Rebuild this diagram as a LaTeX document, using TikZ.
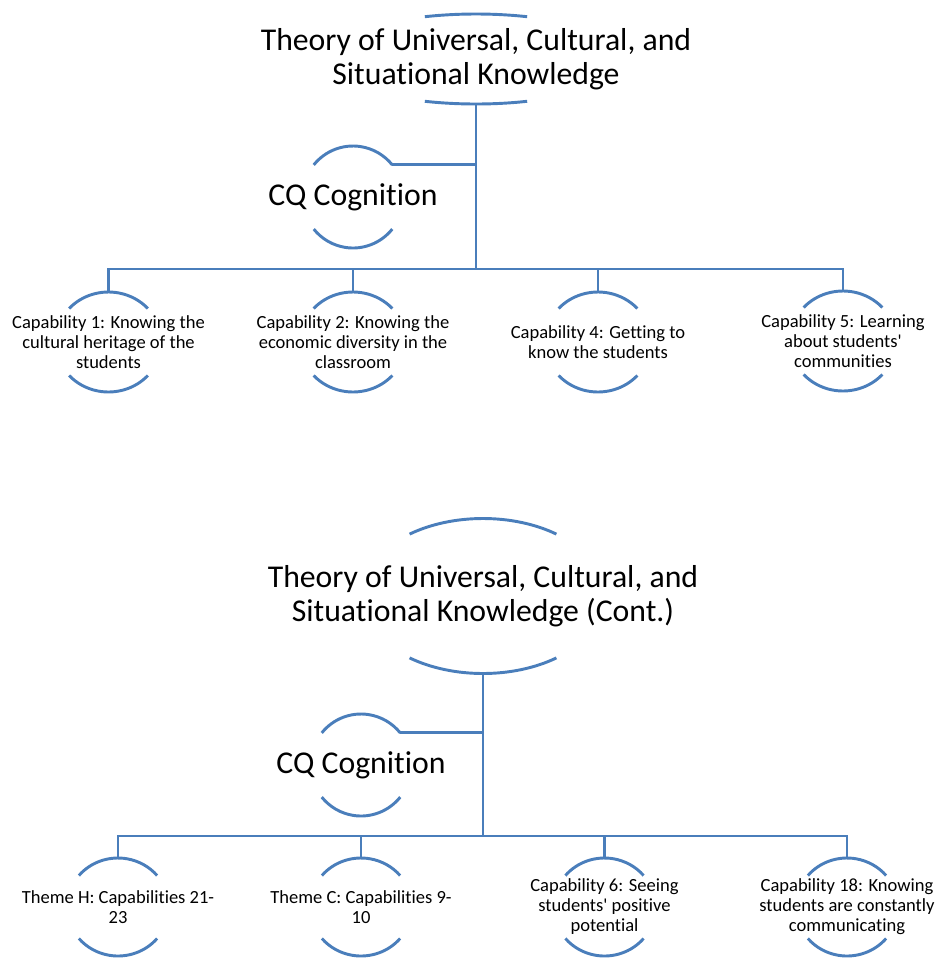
\documentclass[tikz,border=0pt]{standalone}
\usepackage{fontspec}
\setmainfont{Carlito}[Ligatures=NoCommon, RawFeature={-liga;-clig;-calt;-dlig}]
\usetikzlibrary{calc}
\definecolor{lineblue}{HTML}{4A7EBB}
\tikzset{
  arcline/.style={draw=lineblue, line width=2.2pt},
  conn/.style={draw=lineblue, line width=2.2pt},
  bigtxt/.style={font=\fontsize{23.8}{25.2}\selectfont, align=center, inner sep=0pt},
  cqtxt/.style={font=\fontsize{23.8}{26}\selectfont, inner sep=0pt},
  smalltxt/.style={font=\fontsize{13.9}{15}\selectfont, align=center, inner sep=0pt},
}
% name, x radius, y radius, half-opening angle
\newcommand{\arcpair}[4]{%
  \draw[arcline] (#1.center) ++(180+#4:#2 and #3) arc[start angle=180+#4, end angle=360-#4, x radius=#2, y radius=#3];
  \draw[arcline] (#1.center) ++(#4:#2 and #3) arc[start angle=#4, end angle=180-#4, x radius=#2, y radius=#3];
  \coordinate (#1-top) at ($(#1.center)+(0,-#3)$);
  \coordinate (#1-bot) at ($(#1.center)+(0,#3)$);
  \coordinate (#1-tr) at ($(#1.center)+(360-#4:#2 and #3)$);
}
\newcommand{\ap}{\textquotesingle}
\begin{document}
\begin{tikzpicture}[x=0.75pt,y=-0.75pt]
\useasboundingbox (0,0) rectangle (939,958);

% ---------- upper hierarchy ----------
\node[bigtxt] (t1) at (476,59) {Theory of Universal, Cultural, and\\Situational Knowledge};
\arcpair{t1}{149.5}{45}{70}
\node[cqtxt] (cq1) at (353,197) {CQ Cognition};
\arcpair{cq1}{50.5}{51}{39}
\node[smalltxt] (c1) at (108.5,342) {Capability 1: Knowing the\\cultural heritage of the\\students};
\arcpair{c1}{53}{50}{42}
\node[smalltxt] (c2) at (353,342) {Capability 2: Knowing the\\economic diversity in the\\classroom};
\arcpair{c2}{53}{50}{42}
\node[smalltxt] (c4) at (598,342) {Capability 4: Getting to\\know the students};
\arcpair{c4}{53}{50}{42}
\node[smalltxt] (c5) at (843,341) {Capability 5: Learning\\about students\ap\\communities};
\arcpair{c5}{53}{50}{42}

\coordinate (bus1) at (476,269);
\draw[conn] (t1-bot) -- (bus1);
\draw[conn] (cq1-tr) -- (cq1-tr -| bus1);
\draw[conn] (c1-top) |- (bus1) -| (c5-top);
\draw[conn] (c2-top) -- (c2-top |- bus1);
\draw[conn] (c4-top) -- (c4-top |- bus1);

% ---------- lower hierarchy ----------
\node[bigtxt] (t2) at (483,596) {Theory of Universal, Cultural, and\\Situational Knowledge (Cont.)};
\arcpair{t2}{122}{77.5}{53}
\node[cqtxt] (cq2) at (361,765) {CQ Cognition};
\arcpair{cq2}{50.5}{51}{39}
\node[smalltxt] (b1) at (118,907) {Theme H: Capabilities 21-\\23};
\arcpair{b1}{51}{49}{40}
\node[smalltxt] (b2) at (361,907) {Theme C: Capabilities 9-\\10};
\arcpair{b2}{51}{49}{40}
\node[smalltxt] (b3) at (604.5,907) {Capability 6: Seeing\\students\ap{} positive\\potential};
\arcpair{b3}{51}{49}{40}
\node[smalltxt] (b4) at (847,907) {Capability 18: Knowing\\students are constantly\\communicating};
\arcpair{b4}{51}{49}{40}

\coordinate (bus2) at (483,836);
\draw[conn] (t2-bot) -- (bus2);
\draw[conn] (cq2-tr) -- (cq2-tr -| bus2);
\draw[conn] (b1-top) |- (bus2) -| (b4-top);
\draw[conn] (b2-top) -- (b2-top |- bus2);
\draw[conn] (b3-top) -- (b3-top |- bus2);
\end{tikzpicture}
\end{document}
